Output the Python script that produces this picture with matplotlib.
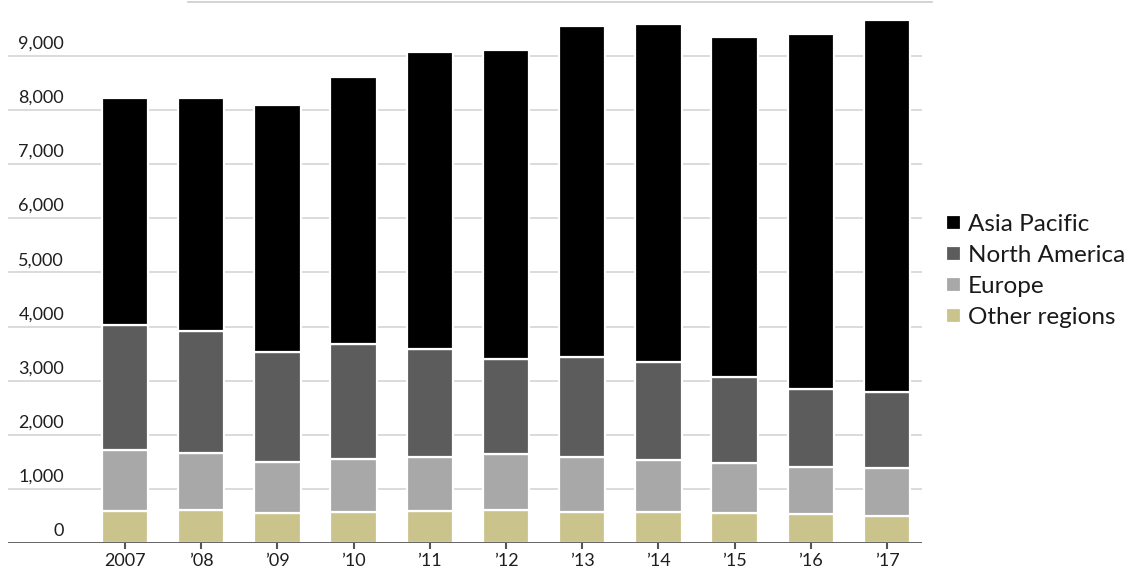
import numpy as np
import matplotlib
matplotlib.use("Agg")
import matplotlib.pyplot as plt
import matplotlib.transforms as mtransforms

# stacked values
years = ["2007", "’08", "’09", "’10", "’11", "’12", "’13", "’14", "’15", "’16", "’17"]
other_regions = [590, 615, 554, 583, 602, 615, 583, 572, 554, 541, 504]
europe = [1132, 1046, 952, 968, 997, 1028, 1016, 966, 934, 873, 881]
north_america = [2308, 2259, 2031, 2123, 1982, 1754, 1835, 1809, 1576, 1440, 1414]
asia_pacific = [4196, 4306, 4549, 4940, 5494, 5703, 6116, 6240, 6277, 6548, 6861]

series_names = ["Other regions", "Europe", "North America", "Asia Pacific"]
series_colors = ["#cbc38c", "#a8a8a8", "#5c5c5c", "#000000"]
y_ticks = [0, 1000, 2000, 3000, 4000, 5000, 6000, 7000, 8000, 9000]

plt.rcParams["font.family"] = ["Lato", "DejaVu Sans"]


def main():
    fig = plt.figure(figsize=(11.33, 5.77), dpi=100)
    ax = fig.add_axes([8 / 1133, 33.7 / 577, 914 / 1133, 541.7 / 577])

    x = np.arange(len(years))
    bottom = np.zeros(len(years))
    handles = []
    for name, vals, col in zip(series_names,
                               [other_regions, europe, north_america, asia_pacific],
                               series_colors):
        b = ax.bar(x, vals, bottom=bottom, width=0.61, color=col,
                   edgecolor="white", linewidth=1.6, label=name, zorder=3)
        handles.append(b)
        bottom += np.array(vals)

    ax.set_xlim(-1.535, 10.46)
    ax.set_ylim(0, 10000)

    # gridlines + labels sitting above them
    for v in y_ticks[1:]:
        ax.axhline(v, color="#dadada", linewidth=1.4, zorder=1)
    ax.axhline(0, color="#555555", linewidth=2, zorder=4)
    trans = mtransforms.blended_transform_factory(ax.transAxes, ax.transData)
    for v in y_ticks:
        ax.annotate(f"{v:,}", xy=(0.0615, v), xycoords=trans,
                    xytext=(0, 3), textcoords="offset points",
                    ha="right", va="bottom", fontsize=13, color="#1e1e1e")

    ax.set_yticks([])
    ax.set_xticks(x)
    ax.set_xticklabels(years, fontsize=13, color="#1e1e1e")
    ax.tick_params(axis="x", length=4, width=1.5, color="#555555", pad=3)
    for s in ax.spines.values():
        s.set_visible(False)

    # thin rule at the very top
    fig.add_artist(plt.Line2D([188 / 1133, 932 / 1133], [0.996, 0.996],
                              color="#cccccc", linewidth=1.2))

    leg = fig.legend(handles[::-1], series_names[::-1],
                     loc="upper left", bbox_to_anchor=(946 / 1133, 1 - 214 / 577),
                     frameon=False, fontsize=17.5, handlelength=0.6,
                     handleheight=0.6, handletextpad=0.3, labelspacing=0.41,
                     borderaxespad=0, borderpad=0)
    for t in leg.get_texts():
        t.set_color("#1a1a1a")

    fig.savefig("out.png", dpi=100)


if __name__ == "__main__":
    main()
